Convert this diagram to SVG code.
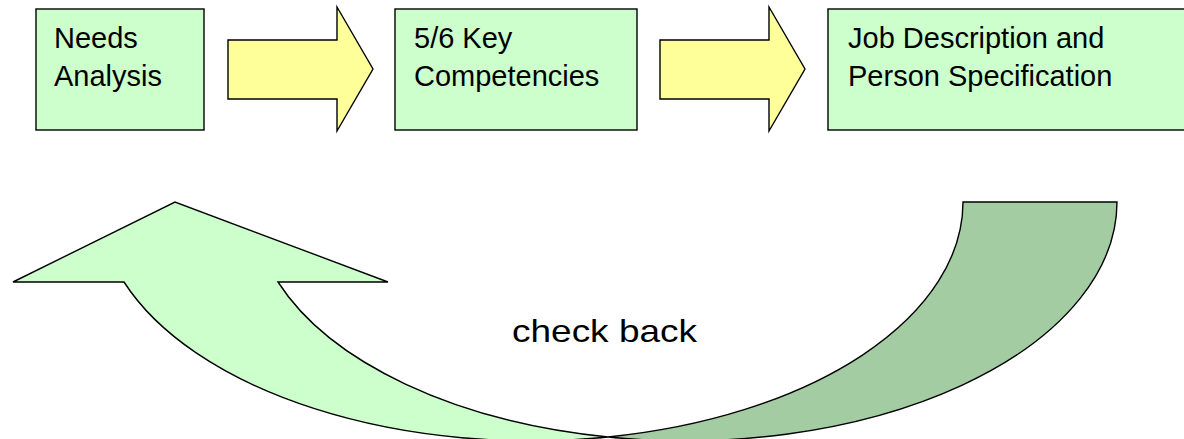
<svg xmlns="http://www.w3.org/2000/svg" width="1184" height="439" viewBox="0 0 1184 439">
<style>
.box{fill:#CCFFCC;stroke:#000;stroke-width:1.4}
.blk{fill:#FFFF99;stroke:#000;stroke-width:1.4;stroke-linejoin:miter}
.t{font-family:"Liberation Sans",Arial,sans-serif;font-size:29px;fill:#000}
.light{fill:#CCFFCC;stroke:#000;stroke-width:1.4;stroke-linejoin:miter}
.dark{fill:#A3CCA3;stroke:#000;stroke-width:1.4;stroke-linejoin:miter}
</style>
<rect width="1184" height="439" fill="#fff"/>
<g id="node-needs">
<rect class="box" x="36" y="9" width="168" height="121"/>
<text class="t" x="54" y="48">Needs</text>
<text class="t" x="54" y="86">Analysis</text>
</g>
<g id="node-competencies">
<rect class="box" x="395" y="9" width="242" height="121"/>
<text class="t" x="414" y="48">5/6 Key</text>
<text class="t" x="414" y="86">Competencies</text>
</g>
<g id="node-jobdesc">
<rect class="box" x="828" y="9" width="370" height="121"/>
<text class="t" x="848" y="48">Job Description and</text>
<text class="t" x="848" y="86">Person Specification</text>
</g>
<g id="connectors">
<polygon class="blk" points="228,40 337,40 337,7 373,69 337,131 337,99 228,99"/>
<polygon class="blk" points="660,40 769,40 769,7 805,69 769,131 769,99 660,99"/>
<g id="check-back-arrow">
<path class="dark" d="M1117,202 A432,239 0 0 1 608,437 A432,239 0 0 0 963,202 Z"/>
<path class="light" d="M608,437 A432,239 0 0 1 278,282 L388,282 L175,202 L13,282 L124,282 A432,239 0 0 0 608,437 Z"/>
</g>
</g>
<text x="512" y="342" font-family="Liberation Sans, Arial, sans-serif" font-size="32" textLength="185" lengthAdjust="spacingAndGlyphs">check back</text>
</svg>
